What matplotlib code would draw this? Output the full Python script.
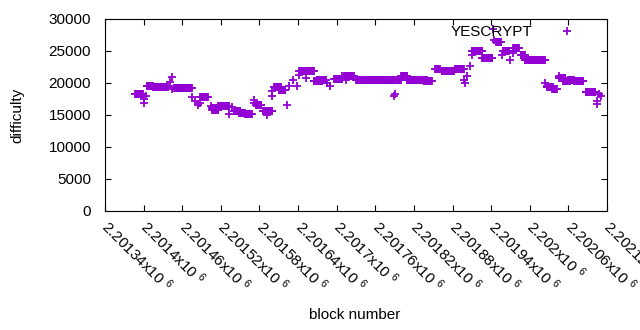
import numpy as np
import matplotlib
matplotlib.use('Agg')
import matplotlib.pyplot as plt

plt.rcParams['font.family'] = ['Liberation Sans', 'DejaVu Sans']
plt.rcParams['mathtext.fontset'] = 'custom'
plt.rcParams['mathtext.rm'] = 'Liberation Sans'

# runs of constant difficulty: first block, last block, difficulty
run_start = [2201387, 2201405, 2201414, 2201447, 2201488, 2201507, 2201507, 2201516,
             2201541, 2201548, 2201557, 2201576, 2201586, 2201603, 2201610, 2201642,
             2201655, 2201664, 2201670, 2201696, 2201712, 2201730, 2201793, 2201800,
             2201809, 2201835, 2201853, 2201863, 2201884, 2201910, 2201926, 2201948,
             2201959, 2201974, 2201986, 2201992, 2202027, 2202035, 2202046, 2202052,
             2202060, 2202068, 2202087]
run_end = [2201399, 2201414, 2201438, 2201475, 2201500, 2201513, 2201516, 2201532,
           2201550, 2201557, 2201568, 2201583, 2201600, 2201614, 2201620, 2201652,
           2201664, 2201677, 2201683, 2201708, 2201727, 2201790, 2201800, 2201810,
           2201841, 2201848, 2201860, 2201882, 2201898, 2201926, 2201942, 2201955,
           2201967, 2201983, 2201992, 2202024, 2202036, 2202042, 2202055, 2202062,
           2202068, 2202083, 2202102]
run_diff = [18260, 19560, 19300, 19200, 17740, 16070, 15800, 16330,
            15650, 15390, 15180, 16590, 15650, 19300, 18940, 21910,
            21910, 20240, 20500, 20660, 21130, 20500, 20500, 21130,
            20500, 20350, 22220, 21810, 22220, 24940, 23890, 26400,
            24940, 25460, 24420, 23530, 19350, 19040, 20760, 20350,
            20500, 20350, 18520]

# single blocks off the runs
pt_block = [2201400, 2201401, 2201403, 2201441, 2201444, 2201444, 2201475, 2201480,
            2201484, 2201487, 2201504, 2201532, 2201538, 2201571, 2201571, 2201575,
            2201592, 2201596, 2201600, 2201600, 2201623, 2201626, 2201632, 2201639,
            2201642, 2201652, 2201685, 2201690, 2201708, 2201715, 2201789, 2201791,
            2201898, 2201900, 2201903, 2201907, 2201910, 2201943, 2201945, 2201957,
            2201970, 2201974, 2202024, 2202026, 2202045, 2202104, 2202105, 2202108,
            2202111]
pt_diff = [17480, 16950, 17900, 20090, 20870, 19040, 17740, 17110,
           16590, 16850, 16430, 15180, 16220, 17370, 16950, 16590,
           15020, 15700, 18000, 18680, 16590, 19460, 20500, 19560,
           21290, 20760, 19980, 19560, 21130, 20500, 18000, 18260,
           20500, 19980, 21020, 22590, 24420, 28430, 26760, 24420,
           23630, 24680, 19980, 19560, 21020, 17110, 16750, 18260,
           17900]

xmin, xmax, xstep = 2201340, 2202120, 60

blocks = []
diffs = []
for s, e, d in zip(run_start, run_end, run_diff):
  for b in range(s, e + 1):
    blocks.append(b); diffs.append(d)
blocks += pt_block
diffs += pt_diff

fs = 11
fig = plt.figure(figsize=(6.4, 3.3), dpi=100)
ax = fig.add_axes([105/640., 1 - 211/330., 502/640., 192/330.])
ax.plot(blocks, diffs, '+', color='#9400D3', ms=5.5, mew=1.3, ls='none', label='YESCRYPT')

ax.set_xlim(xmin, xmax)
ax.set_ylim(0, 30000)
ticks = np.arange(xmin, xmax + 1, xstep)
ax.set_xticks(ticks)
ax.set_xticklabels([r'%sx10 $\mathregular{^{6}}$' % ('%g' % (t / 1e6)) for t in ticks],
                   rotation=-45, ha='left', va='center', rotation_mode='anchor')
ax.set_yticks(np.arange(0, 30001, 5000))
ax.tick_params(direction='in', top=True, right=True, length=4, width=0.8, labelsize=fs)
ax.tick_params(axis='x', pad=9)
ax.tick_params(axis='y', pad=10)
for sp in ax.spines.values():
  sp.set_linewidth(0.8)

ax.set_xlabel('block number', fontsize=fs)
ax.set_ylabel('difficulty', fontsize=fs)
ax.xaxis.set_label_coords(0.497, -0.505)
ax.yaxis.set_label_coords(-0.16, 0.5)
ax.legend(loc='upper right', frameon=False, markerfirst=False, fontsize=fs,
          handlelength=4.4, borderaxespad=0.0, borderpad=0.4, handletextpad=0.1)

fig.savefig('out.png', dpi=100)
